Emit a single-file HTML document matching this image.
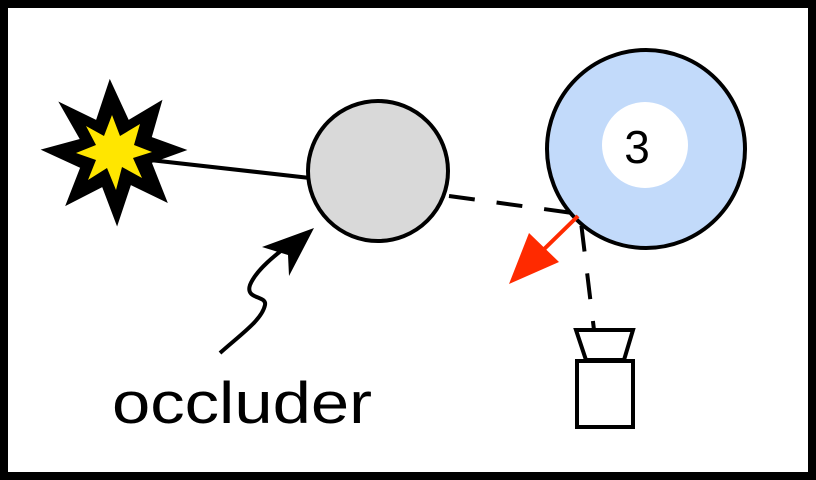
<!DOCTYPE html>
<html><head><style>
html,body{margin:0;padding:0;background:#fff}
svg{display:block}
</style></head><body>
<svg width="816" height="480" viewBox="0 0 816 480" xmlns="http://www.w3.org/2000/svg">
<rect x="4" y="4" width="808" height="472" fill="#fff" stroke="#000" stroke-width="8"/>
<line x1="150" y1="160" x2="310" y2="178" stroke="#000" stroke-width="4"/>
<polygon points="110,83 128,122 160,103 150,138 183,150 150,162 165,200 130,183 117,222 103,185 68,203 82,167 45,150 82,140 62,105 97,122" fill="#000" stroke="#000" stroke-width="3" stroke-linejoin="miter"/>
<polygon points="112,115 120,136 140,124 134,145 152,152 133,158 142,178 122,167 116,190 107,168 88,180 96,160 76,153 96,145 86,126 104,136" fill="#ffe600"/>
<circle cx="378" cy="171" r="70" fill="#d9d9d9" stroke="#000" stroke-width="4"/>
<circle cx="646" cy="149" r="99" fill="#c2dafa" stroke="#000" stroke-width="4"/>
<circle cx="645" cy="145" r="43" fill="#fff"/>
<text x="637" y="163" font-family="Liberation Sans, sans-serif" font-size="46" text-anchor="middle">3</text>
<polyline points="449,196 580,214 594,330" fill="none" stroke="#000" stroke-width="4" stroke-dasharray="26,22"/>
<line x1="578" y1="216" x2="535" y2="258" stroke="#ff2a00" stroke-width="4"/>
<polygon points="509,284 529,233 559,262" fill="#ff2a00"/>
<polygon points="576,330 633,330 624,360 586,360" fill="#fff" stroke="#000" stroke-width="4"/>
<rect x="577" y="361" width="56" height="66" fill="#fff" stroke="#000" stroke-width="4"/>
<path d="M220,353 C240,335 262,320 265,305 C267,295 245,300 250,285 C256,270 275,255 295,240" fill="none" stroke="#000" stroke-width="4"/>
<polygon points="314,228 262,247 288,255 289,276" fill="#000"/>
<text x="112" y="423" font-family="Liberation Sans, sans-serif" font-size="58" textLength="260" lengthAdjust="spacingAndGlyphs">occluder</text>
</svg>
</body></html>
